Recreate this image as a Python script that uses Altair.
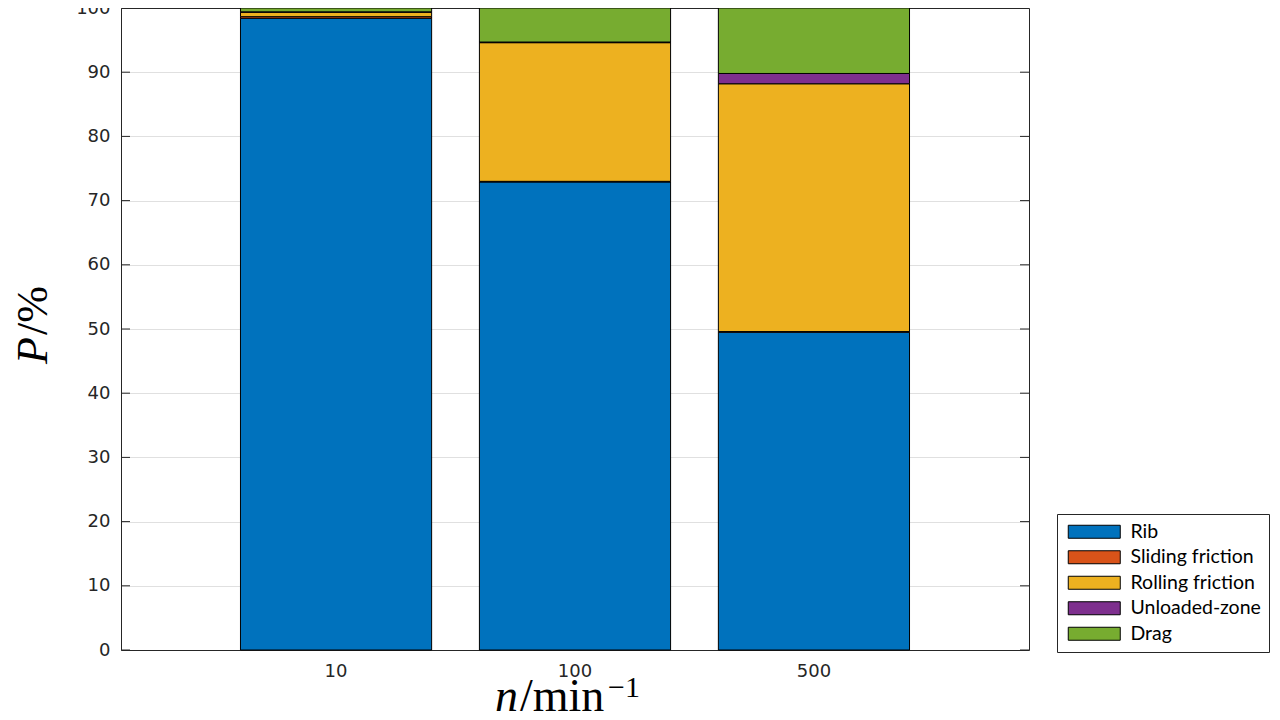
import altair as alt
import pandas as pd

speeds = ["10", "100", "500"]
components = ["Rib", "Sliding friction", "Rolling friction", "Unloaded-zone", "Drag"]
rib = [98.4, 72.9, 49.5]
sliding = [0.25, 0.1, 0.1]
rolling = [0.7, 21.6, 38.6]
unloaded = [0.05, 0.1, 1.6]
drag = [0.6, 5.3, 10.2]
colors = ["#0072BD", "#D95319", "#EDB120", "#7E2F8E", "#77AC30"]
y_ticks = [0, 10, 20, 30, 40, 50, 60, 70, 80, 90, 100]

series = [rib, sliding, rolling, unloaded, drag]
rows = []
for ci, (name, vals) in enumerate(zip(components, series)):
    for s, v in zip(speeds, vals):
        rows.append({"n": s, "component": name, "idx": ci, "P": v})
df = pd.DataFrame(rows)
ticks_df = pd.DataFrame({"v": y_ticks})

W, H = 908, 642
AX = "#262626"

yscale = alt.Scale(domain=[0, 100], nice=False, zero=True)

bars = alt.Chart(df).mark_bar(stroke="black", strokeWidth=1, opacity=1).encode(
    x=alt.X("n:N", sort=speeds,
            scale=alt.Scale(paddingInner=0.2, paddingOuter=0.5),
            axis=alt.Axis(title=None, labelAngle=0, ticks=False, labelPadding=12,
                          labelFont="DejaVu Sans", labelFontSize=18,
                          labelColor=AX, domainColor=AX, grid=False)),
    y=alt.Y("P:Q", stack="zero", scale=yscale,
            axis=alt.Axis(title=None, orient="left", values=y_ticks, ticks=False, labelPadding=11,
                          labelFont="DejaVu Sans", labelFontSize=18,
                          labelColor=AX, domainColor=AX,
                          grid=True, gridWidth=1,
                          gridColor={"condition": {"test": "datum.value == 100", "value": AX},
                                     "value": "#e0e0e0"})),
    color=alt.Color("component:N", sort=components,
                    scale=alt.Scale(domain=components, range=colors),
                    legend=alt.Legend(title=None, orient="none", legendX=936, legendY=506,
                                      symbolType="M-1,-1H7V1H-1Z", symbolSize=169,
                                      symbolStrokeColor="black", symbolStrokeWidth=1,
                                      symbolOpacity=1, labelFont="Lato", labelFontSize=19.5,
                                      labelColor="black", labelOffset=46, labelLimit=300,
                                      strokeColor=AX, fillColor="white",
                                      padding=8, rowPadding=4.5)),
    order=alt.Order("idx:Q", sort="ascending"),
)

ticks_left = alt.Chart(ticks_df).mark_rule(color=AX, strokeWidth=1).encode(
    y=alt.Y("v:Q", scale=yscale, axis=None),
    x=alt.value(0), x2=alt.value(9),
)
ticks_right = alt.Chart(ticks_df).mark_rule(color=AX, strokeWidth=1).encode(
    y=alt.Y("v:Q", scale=yscale,
            axis=alt.Axis(title=None, orient="right", labels=False, ticks=False,
                          grid=False, domain=True, domainColor=AX)),
    x=alt.value(W - 9), x2=alt.value(W),
)

one = pd.DataFrame({"a": [0]})
serif = "Liberation Serif"
xt_n = alt.Chart(one).mark_text(text="n", font=serif, fontSize=46, fontStyle="italic",
                                align="right", baseline="alphabetic", color="black").encode(
    x=alt.value(397), y=alt.value(703))
xt_min = alt.Chart(one).mark_text(text="/min", font=serif, fontSize=46,
                                  align="left", baseline="alphabetic", color="black").encode(
    x=alt.value(399), y=alt.value(703))
xt_sup = alt.Chart(one).mark_text(text="\u22121", font=serif, fontSize=30,
                                  align="left", baseline="alphabetic", color="black").encode(
    x=alt.value(487), y=alt.value(689))
yt_p = alt.Chart(one).mark_text(text="P", font=serif, fontSize=44, fontStyle="italic", angle=270,
                                align="right", baseline="alphabetic", color="black").encode(
    x=alt.value(-74), y=alt.value(329))
yt_pct = alt.Chart(one).mark_text(text="/%", font=serif, fontSize=44, angle=270,
                                  align="left", baseline="alphabetic", color="black").encode(
    x=alt.value(-74), y=alt.value(327))

chart = alt.layer(bars, ticks_left, ticks_right, xt_n, xt_min, xt_sup, yt_p, yt_pct).resolve_scale(
    y="shared"
).resolve_axis(y="independent").properties(
    width=W, height=H,
    autosize=alt.AutoSizeParams(type="none"),
    padding={"left": 113, "top": 0, "right": 243, "bottom": 62},
).configure_view(strokeWidth=0).configure(background="white")

chart.save("out.html", embed_options={"renderer": "svg", "actions": False})
